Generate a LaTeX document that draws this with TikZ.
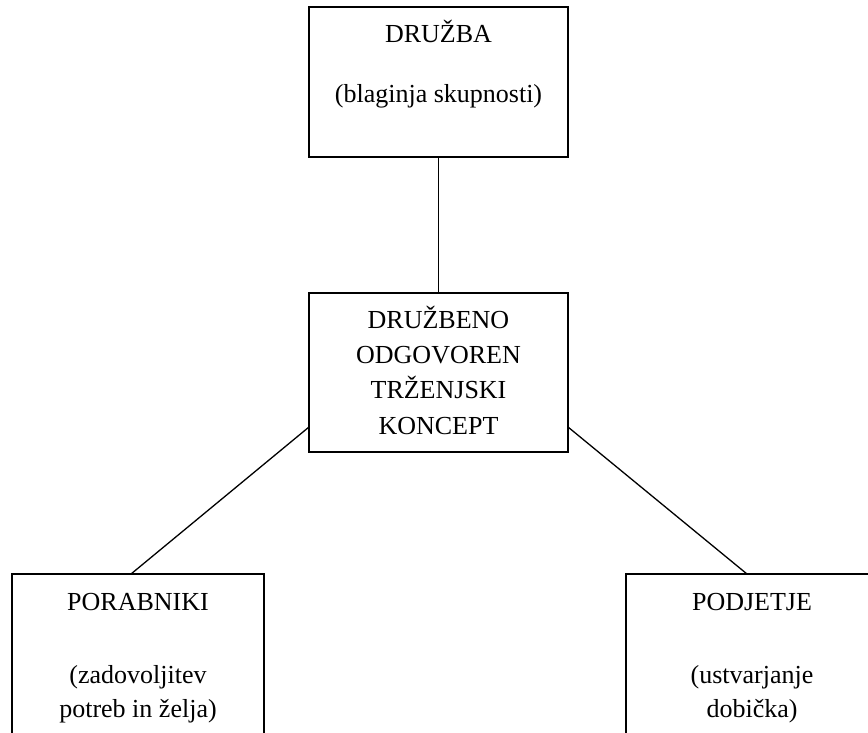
\documentclass[tikz,border=0pt]{standalone}
\usepackage{fontspec}
\setmainfont{Liberation Serif}
\usetikzlibrary{calc}
\begin{document}
\begin{tikzpicture}[x=1pt,y=-1pt,
  box/.style={draw=black, line width=1.6pt, rectangle, inner sep=0pt, outer sep=0pt},
  conn/.style={draw=black, line width=1.3pt},
  lbl/.style={anchor=base, inner sep=0pt, font=\fontsize{26}{35}\selectfont}]
\useasboundingbox (0,0) rectangle (868,733);
\fill[white] (0,0) rectangle (868,733);
\clip (0,0) rectangle (868,733);
% boxes
\node[box, minimum width=259pt, minimum height=150pt] (top) at (438.5,82) {};
\node[box, minimum width=259pt, minimum height=159pt] (mid) at (438.5,372.5) {};
\node[box, minimum width=252pt, minimum height=200pt] (bl) at (138,674) {};
\node[box, minimum width=252pt, minimum height=200pt] (br) at (752,674) {};
% texts
\node[lbl] (t1) at (438.5,43) {DRUŽBA};
\node[lbl] (t2) at (438.5,103) {(blaginja skupnosti)};
\node[lbl] (m1) at (438.5,328) {DRUŽBENO};
\node[lbl] (m2) at (438.5,363) {ODGOVOREN};
\node[lbl] (m3) at (438.5,398) {TRŽENJSKI};
\node[lbl] (m4) at (438.5,434) {KONCEPT};
\node[lbl] (l1) at (138,610) {PORABNIKI};
\node[lbl] (l2) at (138,683) {(zadovoljitev};
\node[lbl] (l3) at (138,717) {potreb in želja)};
\node[lbl] (r1) at (752,610) {PODJETJE};
\node[lbl] (r2) at (752,683) {(ustvarjanje};
\node[lbl] (r3) at (752,717) {dobička)};
% connector end points
\coordinate (mL) at ($(mid.south west)+(0,-25)$);
\coordinate (mR) at ($(mid.south east)+(0,-25)$);
\coordinate (bL) at ($(bl.north west)+(119,0)$);
\coordinate (bR) at ($(br.north west)+(121,0)$);
% connectors
\draw[conn] (top.south) -- (mid.north);
\draw[conn] (mL) -- (bL);
\draw[conn] (mR) -- (bR);
\end{tikzpicture}
\end{document}
